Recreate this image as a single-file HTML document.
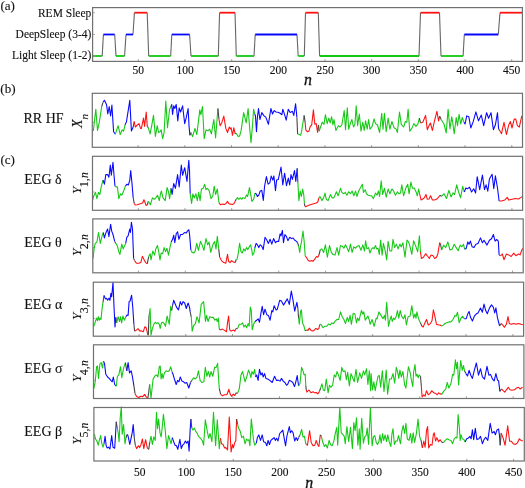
<!DOCTYPE html>
<html><head><meta charset="utf-8"><style>
html,body{margin:0;padding:0;background:#fff;}
body{width:525px;height:488px;overflow:hidden;position:relative;font-family:"Liberation Serif",serif;color:#1a1a1a;}
svg{position:absolute;left:0;top:0;filter:blur(0.35px);}
.t{position:absolute;white-space:nowrap;line-height:1;}
</style></head><body>
<svg width="525" height="488" viewBox="0 0 525 488">
<line x1="138.3" y1="61.4" x2="138.3" y2="59.2" stroke="#888" stroke-width="0.8"/>
<line x1="185.0" y1="61.4" x2="185.0" y2="59.2" stroke="#888" stroke-width="0.8"/>
<line x1="231.7" y1="61.4" x2="231.7" y2="59.2" stroke="#888" stroke-width="0.8"/>
<line x1="278.3" y1="61.4" x2="278.3" y2="59.2" stroke="#888" stroke-width="0.8"/>
<line x1="325.0" y1="61.4" x2="325.0" y2="59.2" stroke="#888" stroke-width="0.8"/>
<line x1="371.7" y1="61.4" x2="371.7" y2="59.2" stroke="#888" stroke-width="0.8"/>
<line x1="418.3" y1="61.4" x2="418.3" y2="59.2" stroke="#888" stroke-width="0.8"/>
<line x1="465.0" y1="61.4" x2="465.0" y2="59.2" stroke="#888" stroke-width="0.8"/>
<line x1="511.7" y1="61.4" x2="511.7" y2="59.2" stroke="#888" stroke-width="0.8"/>
<line x1="138.1" y1="147.3" x2="138.1" y2="145.1" stroke="#888" stroke-width="0.8"/>
<line x1="184.8" y1="147.3" x2="184.8" y2="145.1" stroke="#888" stroke-width="0.8"/>
<line x1="231.5" y1="147.3" x2="231.5" y2="145.1" stroke="#888" stroke-width="0.8"/>
<line x1="278.2" y1="147.3" x2="278.2" y2="145.1" stroke="#888" stroke-width="0.8"/>
<line x1="324.9" y1="147.3" x2="324.9" y2="145.1" stroke="#888" stroke-width="0.8"/>
<line x1="371.6" y1="147.3" x2="371.6" y2="145.1" stroke="#888" stroke-width="0.8"/>
<line x1="418.3" y1="147.3" x2="418.3" y2="145.1" stroke="#888" stroke-width="0.8"/>
<line x1="465.0" y1="147.3" x2="465.0" y2="145.1" stroke="#888" stroke-width="0.8"/>
<line x1="511.8" y1="147.3" x2="511.8" y2="145.1" stroke="#888" stroke-width="0.8"/>
<line x1="138.3" y1="210.3" x2="138.3" y2="208.1" stroke="#888" stroke-width="0.8"/>
<line x1="185.0" y1="210.3" x2="185.0" y2="208.1" stroke="#888" stroke-width="0.8"/>
<line x1="231.7" y1="210.3" x2="231.7" y2="208.1" stroke="#888" stroke-width="0.8"/>
<line x1="278.4" y1="210.3" x2="278.4" y2="208.1" stroke="#888" stroke-width="0.8"/>
<line x1="325.1" y1="210.3" x2="325.1" y2="208.1" stroke="#888" stroke-width="0.8"/>
<line x1="371.8" y1="210.3" x2="371.8" y2="208.1" stroke="#888" stroke-width="0.8"/>
<line x1="418.5" y1="210.3" x2="418.5" y2="208.1" stroke="#888" stroke-width="0.8"/>
<line x1="465.2" y1="210.3" x2="465.2" y2="208.1" stroke="#888" stroke-width="0.8"/>
<line x1="511.9" y1="210.3" x2="511.9" y2="208.1" stroke="#888" stroke-width="0.8"/>
<line x1="138.6" y1="272.8" x2="138.6" y2="270.6" stroke="#888" stroke-width="0.8"/>
<line x1="185.3" y1="272.8" x2="185.3" y2="270.6" stroke="#888" stroke-width="0.8"/>
<line x1="232.1" y1="272.8" x2="232.1" y2="270.6" stroke="#888" stroke-width="0.8"/>
<line x1="278.8" y1="272.8" x2="278.8" y2="270.6" stroke="#888" stroke-width="0.8"/>
<line x1="325.5" y1="272.8" x2="325.5" y2="270.6" stroke="#888" stroke-width="0.8"/>
<line x1="372.3" y1="272.8" x2="372.3" y2="270.6" stroke="#888" stroke-width="0.8"/>
<line x1="419.0" y1="272.8" x2="419.0" y2="270.6" stroke="#888" stroke-width="0.8"/>
<line x1="465.7" y1="272.8" x2="465.7" y2="270.6" stroke="#888" stroke-width="0.8"/>
<line x1="512.5" y1="272.8" x2="512.5" y2="270.6" stroke="#888" stroke-width="0.8"/>
<line x1="139.1" y1="336.2" x2="139.1" y2="334.0" stroke="#888" stroke-width="0.8"/>
<line x1="185.8" y1="336.2" x2="185.8" y2="334.0" stroke="#888" stroke-width="0.8"/>
<line x1="232.5" y1="336.2" x2="232.5" y2="334.0" stroke="#888" stroke-width="0.8"/>
<line x1="279.2" y1="336.2" x2="279.2" y2="334.0" stroke="#888" stroke-width="0.8"/>
<line x1="326.0" y1="336.2" x2="326.0" y2="334.0" stroke="#888" stroke-width="0.8"/>
<line x1="372.7" y1="336.2" x2="372.7" y2="334.0" stroke="#888" stroke-width="0.8"/>
<line x1="419.4" y1="336.2" x2="419.4" y2="334.0" stroke="#888" stroke-width="0.8"/>
<line x1="466.1" y1="336.2" x2="466.1" y2="334.0" stroke="#888" stroke-width="0.8"/>
<line x1="512.9" y1="336.2" x2="512.9" y2="334.0" stroke="#888" stroke-width="0.8"/>
<line x1="139.3" y1="398.5" x2="139.3" y2="396.3" stroke="#888" stroke-width="0.8"/>
<line x1="186.0" y1="398.5" x2="186.0" y2="396.3" stroke="#888" stroke-width="0.8"/>
<line x1="232.8" y1="398.5" x2="232.8" y2="396.3" stroke="#888" stroke-width="0.8"/>
<line x1="279.5" y1="398.5" x2="279.5" y2="396.3" stroke="#888" stroke-width="0.8"/>
<line x1="326.2" y1="398.5" x2="326.2" y2="396.3" stroke="#888" stroke-width="0.8"/>
<line x1="373.0" y1="398.5" x2="373.0" y2="396.3" stroke="#888" stroke-width="0.8"/>
<line x1="419.7" y1="398.5" x2="419.7" y2="396.3" stroke="#888" stroke-width="0.8"/>
<line x1="466.4" y1="398.5" x2="466.4" y2="396.3" stroke="#888" stroke-width="0.8"/>
<line x1="513.2" y1="398.5" x2="513.2" y2="396.3" stroke="#888" stroke-width="0.8"/>
<line x1="139.7" y1="461.0" x2="139.7" y2="458.8" stroke="#888" stroke-width="0.8"/>
<line x1="186.4" y1="461.0" x2="186.4" y2="458.8" stroke="#888" stroke-width="0.8"/>
<line x1="233.2" y1="461.0" x2="233.2" y2="458.8" stroke="#888" stroke-width="0.8"/>
<line x1="279.9" y1="461.0" x2="279.9" y2="458.8" stroke="#888" stroke-width="0.8"/>
<line x1="326.6" y1="461.0" x2="326.6" y2="458.8" stroke="#888" stroke-width="0.8"/>
<line x1="373.4" y1="461.0" x2="373.4" y2="458.8" stroke="#888" stroke-width="0.8"/>
<line x1="420.1" y1="461.0" x2="420.1" y2="458.8" stroke="#888" stroke-width="0.8"/>
<line x1="466.8" y1="461.0" x2="466.8" y2="458.8" stroke="#888" stroke-width="0.8"/>
<line x1="513.6" y1="461.0" x2="513.6" y2="458.8" stroke="#888" stroke-width="0.8"/>
<line x1="102.2" y1="56.0" x2="103.4" y2="34.5" stroke="#666" stroke-width="1.1"/>
<line x1="114.7" y1="34.5" x2="116.0" y2="56.0" stroke="#666" stroke-width="1.1"/>
<line x1="124.6" y1="56.0" x2="126.0" y2="34.5" stroke="#666" stroke-width="1.1"/>
<line x1="133.0" y1="34.5" x2="134.4" y2="12.7" stroke="#666" stroke-width="1.1"/>
<line x1="147.2" y1="12.7" x2="148.7" y2="56.0" stroke="#666" stroke-width="1.1"/>
<line x1="170.7" y1="56.0" x2="171.8" y2="34.5" stroke="#666" stroke-width="1.1"/>
<line x1="189.6" y1="34.5" x2="191.0" y2="56.0" stroke="#666" stroke-width="1.1"/>
<line x1="218.3" y1="56.0" x2="219.6" y2="12.7" stroke="#666" stroke-width="1.1"/>
<line x1="235.0" y1="12.7" x2="236.3" y2="56.0" stroke="#666" stroke-width="1.1"/>
<line x1="254.0" y1="56.0" x2="255.2" y2="34.5" stroke="#666" stroke-width="1.1"/>
<line x1="297.0" y1="34.5" x2="298.2" y2="56.0" stroke="#666" stroke-width="1.1"/>
<line x1="304.3" y1="56.0" x2="305.5" y2="12.7" stroke="#666" stroke-width="1.1"/>
<line x1="318.3" y1="12.7" x2="319.6" y2="56.0" stroke="#666" stroke-width="1.1"/>
<line x1="419.0" y1="56.0" x2="420.5" y2="12.7" stroke="#666" stroke-width="1.1"/>
<line x1="439.5" y1="12.7" x2="441.0" y2="56.0" stroke="#666" stroke-width="1.1"/>
<line x1="463.1" y1="56.0" x2="464.3" y2="34.5" stroke="#666" stroke-width="1.1"/>
<line x1="498.3" y1="34.5" x2="500.0" y2="12.7" stroke="#666" stroke-width="1.1"/>
<line x1="92.6" y1="56.0" x2="102.2" y2="56.0" stroke="#14c814" stroke-width="1.8"/>
<line x1="103.4" y1="34.5" x2="114.7" y2="34.5" stroke="#0808ff" stroke-width="1.8"/>
<line x1="116.0" y1="56.0" x2="124.6" y2="56.0" stroke="#14c814" stroke-width="1.8"/>
<line x1="126.0" y1="34.5" x2="133.0" y2="34.5" stroke="#0808ff" stroke-width="1.8"/>
<line x1="134.4" y1="12.7" x2="147.2" y2="12.7" stroke="#ff1212" stroke-width="1.8"/>
<line x1="148.7" y1="56.0" x2="170.7" y2="56.0" stroke="#14c814" stroke-width="1.8"/>
<line x1="171.8" y1="34.5" x2="189.6" y2="34.5" stroke="#0808ff" stroke-width="1.8"/>
<line x1="191.0" y1="56.0" x2="218.3" y2="56.0" stroke="#14c814" stroke-width="1.8"/>
<line x1="219.6" y1="12.7" x2="235.0" y2="12.7" stroke="#ff1212" stroke-width="1.8"/>
<line x1="236.3" y1="56.0" x2="254.0" y2="56.0" stroke="#14c814" stroke-width="1.8"/>
<line x1="255.2" y1="34.5" x2="297.0" y2="34.5" stroke="#0808ff" stroke-width="1.8"/>
<line x1="298.2" y1="56.0" x2="304.3" y2="56.0" stroke="#14c814" stroke-width="1.8"/>
<line x1="305.5" y1="12.7" x2="318.3" y2="12.7" stroke="#ff1212" stroke-width="1.8"/>
<line x1="319.6" y1="56.0" x2="419.0" y2="56.0" stroke="#14c814" stroke-width="1.8"/>
<line x1="420.5" y1="12.7" x2="439.5" y2="12.7" stroke="#ff1212" stroke-width="1.8"/>
<line x1="441.0" y1="56.0" x2="463.1" y2="56.0" stroke="#14c814" stroke-width="1.8"/>
<line x1="464.3" y1="34.5" x2="498.3" y2="34.5" stroke="#0808ff" stroke-width="1.8"/>
<line x1="500.0" y1="12.7" x2="522.4" y2="12.7" stroke="#ff1212" stroke-width="1.8"/>
<line x1="92.3" y1="122.4" x2="94.3" y2="122.4" stroke="#888" stroke-width="0.8"/>
<line x1="92.5" y1="192.0" x2="94.5" y2="192.0" stroke="#888" stroke-width="0.8"/>
<line x1="92.8" y1="247.6" x2="94.8" y2="247.6" stroke="#888" stroke-width="0.8"/>
<line x1="93.3" y1="318.4" x2="95.3" y2="318.4" stroke="#888" stroke-width="0.8"/>
<line x1="93.5" y1="380.3" x2="95.5" y2="380.3" stroke="#888" stroke-width="0.8"/>
<line x1="93.9" y1="438.3" x2="95.9" y2="438.3" stroke="#888" stroke-width="0.8"/>
<line x1="92.6" y1="12.7" x2="95.0" y2="12.7" stroke="#999" stroke-width="0.8"/>
<line x1="92.6" y1="34.5" x2="95.0" y2="34.5" stroke="#999" stroke-width="0.8"/>
<line x1="92.6" y1="56.0" x2="95.0" y2="56.0" stroke="#999" stroke-width="0.8"/>
<polyline points="92.5,129.8 93.4,130.5 95.8,109.2 97.5,130.5 99.3,122.2 101.7,106.5" fill="none" stroke="#14c814" stroke-width="1.08" stroke-linejoin="round"/>
<polyline points="101.7,106.5 103.0,102.3" fill="none" stroke="#444" stroke-width="1.08" stroke-linejoin="round"/>
<polyline points="103.0,102.3 104.4,100.3 106.5,104.4 107.8,114.0 109.2,106.5 110.6,116.0 111.9,105.1 113.6,131.8 115.4,134.2" fill="none" stroke="#0808ff" stroke-width="1.08" stroke-linejoin="round"/>
<polyline points="115.4,134.2 118.1,125.7 120.2,134.6 122.2,129.8 123.6,131.2 125.0,125.0" fill="none" stroke="#14c814" stroke-width="1.08" stroke-linejoin="round"/>
<polyline points="125.0,125.0 125.9,122.9 126.4,122.2 129.8,100.3 131.4,130.9 133.2,127.0" fill="none" stroke="#0808ff" stroke-width="1.08" stroke-linejoin="round"/>
<polyline points="133.2,127.0 134.2,121.5" fill="none" stroke="#444" stroke-width="1.08" stroke-linejoin="round"/>
<polyline points="134.2,121.5 135.3,127.0 137.3,125.0 139.0,123.6 140.5,128.4 141.4,128.4 143.5,118.1 144.6,126.4 146.2,112.0 147.3,126.4" fill="none" stroke="#ff1212" stroke-width="1.08" stroke-linejoin="round"/>
<polyline points="147.3,126.4 148.3,127.7" fill="none" stroke="#444" stroke-width="1.08" stroke-linejoin="round"/>
<polyline points="148.3,127.7 150.1,133.9 151.7,125.7 153.5,115.4 155.4,136.4 157.2,125.7 158.6,132.5 160.0,131.8 161.1,129.8 162.7,138.7 164.1,132.5 165.8,101.0 167.5,127.7 169.6,109.2 170.7,107.1" fill="none" stroke="#14c814" stroke-width="1.08" stroke-linejoin="round"/>
<polyline points="170.7,107.1 171.7,104.4" fill="none" stroke="#444" stroke-width="1.08" stroke-linejoin="round"/>
<polyline points="171.7,104.4 172.6,114.4 173.7,105.8 174.8,108.5 176.2,104.4 177.8,120.9 179.2,107.8 180.6,112.0 182.6,105.8 184.7,123.6 186.3,117.4 188.1,108.5 189.1,127.0 189.9,135.3" fill="none" stroke="#0808ff" stroke-width="1.08" stroke-linejoin="round"/>
<polyline points="189.9,135.3 190.9,132.5" fill="none" stroke="#444" stroke-width="1.08" stroke-linejoin="round"/>
<polyline points="190.9,132.5 192.6,136.6 195.0,128.4 196.8,134.6 199.8,109.9 200.9,114.7 202.5,106.5 204.2,138.7 206.0,129.8 208.0,130.9 209.7,129.1 211.4,133.9 213.8,119.5 215.6,138.0 217.9,108.5" fill="none" stroke="#14c814" stroke-width="1.08" stroke-linejoin="round"/>
<polyline points="217.9,108.5 219.0,119.5" fill="none" stroke="#444" stroke-width="1.08" stroke-linejoin="round"/>
<polyline points="219.0,119.5 220.1,125.7 221.7,122.9 223.8,116.1 225.8,128.4 227.5,132.5 229.3,127.0 230.5,129.0 231.1,127.7 232.5,135.3 233.8,127.7 235.2,133.9" fill="none" stroke="#ff1212" stroke-width="1.08" stroke-linejoin="round"/>
<polyline points="235.2,133.9 236.2,133.2" fill="none" stroke="#444" stroke-width="1.08" stroke-linejoin="round"/>
<polyline points="236.2,133.2 238.2,136.6 239.6,136.0 241.0,131.2 243.7,112.6 246.2,122.9 248.1,108.5 249.5,125.7 251.0,142.8 252.6,124.3 253.6,109.2 254.7,114.0" fill="none" stroke="#14c814" stroke-width="1.08" stroke-linejoin="round"/>
<polyline points="254.7,114.0 255.4,115.4 256.5,131.8 257.4,117.4 258.5,108.5 259.9,119.5 261.8,112.6 263.6,115.4 265.9,117.4 268.4,124.3 270.9,108.5 272.5,114.0 274.2,110.6 276.0,112.0 278.0,112.2 280.1,113.3 281.9,114.7 282.8,109.2 284.6,114.7 286.2,120.2 288.3,109.2 290.1,112.6 292.4,111.3 293.8,115.4 295.6,103.7 296.9,117.4" fill="none" stroke="#0808ff" stroke-width="1.08" stroke-linejoin="round"/>
<polyline points="296.9,117.4 297.6,133.9" fill="none" stroke="#444" stroke-width="1.08" stroke-linejoin="round"/>
<polyline points="297.6,133.9 299.3,134.6 300.6,135.3 301.6,131.2 304.1,115.4" fill="none" stroke="#14c814" stroke-width="1.08" stroke-linejoin="round"/>
<polyline points="304.1,115.4 305.2,122.9" fill="none" stroke="#444" stroke-width="1.08" stroke-linejoin="round"/>
<polyline points="305.2,122.9 305.8,129.8 307.5,131.8 308.9,131.2 310.3,126.4 311.7,125.0 313.4,109.9 314.8,124.3 316.2,123.6 317.6,132.5 318.5,125.0" fill="none" stroke="#ff1212" stroke-width="1.08" stroke-linejoin="round"/>
<polyline points="318.5,125.0 319.2,131.2" fill="none" stroke="#444" stroke-width="1.08" stroke-linejoin="round"/>
<polyline points="319.2,131.2 320.6,127.0 322.2,122.2 324.0,124.3 325.4,114.7 327.2,123.6 328.8,118.1 330.2,122.9 331.6,116.7 332.9,125.0 334.0,119.5 335.9,130.5 338.4,125.7 340.1,127.0 341.8,125.0 344.2,110.6 345.5,129.8 347.3,107.8 348.7,129.1 350.1,124.3 351.9,119.5 353.5,127.0 354.9,124.3 356.2,105.8 357.6,125.7 359.3,114.0 361.0,131.2 362.8,122.2 364.2,130.5 365.6,120.9 367.2,129.1 368.6,119.5 370.0,129.1 372.1,126.4 374.1,118.8 375.5,123.6 377.5,125.0 379.6,132.5 381.7,113.3 383.0,129.1 384.4,113.3 386.2,131.8 388.1,118.1 389.9,129.1 391.9,121.5 394.0,127.7 396.1,129.1 397.4,132.5 399.5,112.0 401.3,124.3 403.6,127.0 405.4,121.5 406.8,122.2 408.1,109.2 409.8,131.2 411.8,128.4 413.9,123.6 416.0,126.4 418.0,123.6 419.4,118.1" fill="none" stroke="#14c814" stroke-width="1.08" stroke-linejoin="round"/>
<polyline points="419.4,118.1 420.5,122.9" fill="none" stroke="#444" stroke-width="1.08" stroke-linejoin="round"/>
<polyline points="420.5,122.9 422.8,122.2 425.6,115.4 427.3,129.8 429.0,125.7 430.4,122.9 432.4,130.5 434.5,120.9 436.9,111.3 438.6,120.9 439.7,116.1" fill="none" stroke="#ff1212" stroke-width="1.08" stroke-linejoin="round"/>
<polyline points="439.7,116.1 441.1,119.5" fill="none" stroke="#444" stroke-width="1.08" stroke-linejoin="round"/>
<polyline points="441.1,119.5 444.0,124.0 446.2,132.9 448.1,109.4 450.0,128.9 451.7,116.7 452.6,121.6 454.2,133.7 456.2,117.5 457.5,125.6 459.1,114.3 460.7,124.0 462.3,117.5 464.0,122.4" fill="none" stroke="#14c814" stroke-width="1.08" stroke-linejoin="round"/>
<polyline points="464.0,122.4 465.1,124.0 466.7,115.9 468.8,116.7 470.8,128.0 473.2,121.6 475.9,111.9 478.5,120.8 481.3,115.1 483.7,125.6 486.6,112.7 488.6,118.3 491.0,112.7 493.4,129.7 495.4,124.8 497.5,112.7 498.6,128.9" fill="none" stroke="#0808ff" stroke-width="1.08" stroke-linejoin="round"/>
<polyline points="498.6,128.9 500.2,131.3" fill="none" stroke="#444" stroke-width="1.08" stroke-linejoin="round"/>
<polyline points="500.2,131.3 501.5,133.7 504.0,122.4 506.4,134.5 508.8,124.8 510.4,121.6 512.0,128.0 514.2,119.1 515.8,119.1 517.4,125.6 519.3,127.2 521.8,115.9" fill="none" stroke="#ff1212" stroke-width="1.08" stroke-linejoin="round"/>
<polyline points="92.5,200.6 93.8,195.8 95.5,192.4 96.9,198.6 98.5,192.4 99.9,194.5 101.2,186.9 103.0,180.1" fill="none" stroke="#14c814" stroke-width="1.08" stroke-linejoin="round"/>
<polyline points="103.0,180.1 104.4,184.2 105.8,174.6 107.6,174.6 108.9,177.3 110.3,165.0 111.3,175.3 113.0,162.2 114.0,175.3 115.0,186.2" fill="none" stroke="#0808ff" stroke-width="1.08" stroke-linejoin="round"/>
<polyline points="115.0,186.2 116.3,186.9 117.4,186.9 118.8,198.6 120.5,193.8 121.8,195.2 123.6,191.0 125.4,186.2" fill="none" stroke="#14c814" stroke-width="1.08" stroke-linejoin="round"/>
<polyline points="125.4,186.2 127.0,184.2 128.4,184.9 129.8,180.1 130.7,170.5 131.8,181.4 133.2,197.9" fill="none" stroke="#0808ff" stroke-width="1.08" stroke-linejoin="round"/>
<polyline points="133.2,197.9 134.2,203.4" fill="none" stroke="#444" stroke-width="1.08" stroke-linejoin="round"/>
<polyline points="134.2,203.4 135.3,205.0 137.3,204.8 139.4,204.1 141.4,203.4 142.8,202.7 143.9,199.7 144.9,202.0 146.0,205.4 147.3,204.8" fill="none" stroke="#ff1212" stroke-width="1.08" stroke-linejoin="round"/>
<polyline points="147.3,204.8 148.3,201.3" fill="none" stroke="#444" stroke-width="1.08" stroke-linejoin="round"/>
<polyline points="148.3,201.3 149.3,202.7 150.4,204.8 152.4,197.9 154.2,199.3 155.8,197.9 157.5,195.2 159.3,200.6 160.5,194.0 161.4,191.0 163.0,197.9 165.2,200.6 167.1,187.6 168.5,191.7 169.6,198.6 171.0,188.3" fill="none" stroke="#14c814" stroke-width="1.08" stroke-linejoin="round"/>
<polyline points="171.0,188.3 172.1,194.5 173.7,183.5 175.4,188.3 177.6,174.6 179.2,186.9 181.3,165.0 182.6,175.3 184.7,167.7 187.0,181.4 188.8,160.2 189.5,170.5 190.2,193.8" fill="none" stroke="#0808ff" stroke-width="1.08" stroke-linejoin="round"/>
<polyline points="190.2,193.8 191.6,203.4 192.9,193.8 194.3,197.9 195.9,193.8 197.3,200.6 198.7,192.4 200.1,200.6 201.4,189.0 203.2,188.3 204.6,184.2 206.0,189.7 207.3,188.3 209.1,190.4 211.0,198.6 212.8,195.8 214.2,186.2 215.6,194.5 217.3,189.0 219.0,202.7" fill="none" stroke="#14c814" stroke-width="1.08" stroke-linejoin="round"/>
<polyline points="219.0,202.7 220.4,204.8 222.4,204.1 224.5,204.5 226.1,203.4 227.5,201.3 228.9,203.7 230.6,204.1 232.1,204.5 233.8,203.7 235.2,201.3" fill="none" stroke="#ff1212" stroke-width="1.08" stroke-linejoin="round"/>
<polyline points="235.2,201.3 236.2,199.3" fill="none" stroke="#444" stroke-width="1.08" stroke-linejoin="round"/>
<polyline points="236.2,199.3 237.5,197.6 238.9,199.3 240.3,197.9 241.7,199.3 243.0,197.6 244.8,198.6 246.5,194.9 247.6,196.5 249.5,187.6 250.6,193.8 251.9,201.3 253.6,199.3 255.0,193.1" fill="none" stroke="#14c814" stroke-width="1.08" stroke-linejoin="round"/>
<polyline points="255.0,193.1 256.1,193.8 257.4,196.5 258.8,195.2 260.2,191.0 261.8,190.4 263.3,200.4 264.6,186.2 266.4,176.6 268.1,184.2 269.8,182.8 271.2,176.0 272.8,180.1 273.9,176.0 275.5,190.8 276.6,180.1 278.3,179.4 279.7,173.2 281.0,167.0 282.8,184.9 284.6,173.2 286.5,185.6 288.3,178.0 289.7,184.9 291.0,174.6 292.4,179.4 294.5,170.5 295.8,181.4 297.2,168.4" fill="none" stroke="#0808ff" stroke-width="1.08" stroke-linejoin="round"/>
<polyline points="297.2,168.4 297.9,182.8" fill="none" stroke="#444" stroke-width="1.08" stroke-linejoin="round"/>
<polyline points="297.9,182.8 298.9,200.6 300.2,191.0 301.4,196.5 302.7,189.0 303.8,195.2 304.4,203.4" fill="none" stroke="#14c814" stroke-width="1.08" stroke-linejoin="round"/>
<polyline points="304.4,203.4 304.9,206.1" fill="none" stroke="#444" stroke-width="1.08" stroke-linejoin="round"/>
<polyline points="304.9,206.1 305.8,206.8 308.2,205.4 311.0,204.5 313.7,203.7 316.2,203.0 317.8,202.0 318.9,197.9" fill="none" stroke="#ff1212" stroke-width="1.08" stroke-linejoin="round"/>
<polyline points="318.9,197.9 319.9,196.5 321.9,200.6 323.6,197.9 325.0,193.1 326.3,199.3 328.1,200.6 330.5,194.5 332.2,197.9 334.0,197.6 336.4,191.7 338.1,195.8 340.5,188.3 341.8,192.4 343.6,193.8 345.3,192.4 346.9,195.2 348.7,191.7 350.5,193.8 352.1,191.0 353.8,195.8 355.6,191.0 356.9,196.5 358.7,191.0 360.6,187.6 362.4,184.2 363.4,192.4 365.2,189.7 366.5,193.8 368.3,195.2 370.2,195.8 371.6,195.8 373.4,198.6 375.5,193.1 377.1,195.2 378.5,191.0 379.6,196.5 381.2,180.7 382.6,194.5 384.4,188.3 386.2,197.2 388.1,189.0 389.9,193.8 391.9,189.0 393.3,190.4 395.4,195.2 397.4,191.7 398.8,193.8 400.5,193.1 401.8,184.9 403.6,195.8 405.7,188.3 407.7,184.2 409.1,193.8 410.9,182.1 412.5,188.3 414.2,188.0 416.0,191.7 417.3,195.8 418.7,189.0 419.7,194.0" fill="none" stroke="#14c814" stroke-width="1.08" stroke-linejoin="round"/>
<polyline points="419.7,194.0 421.0,200.0 422.4,199.3 424.2,197.9 426.0,194.5 427.3,199.3 429.0,199.0 430.6,195.8 432.4,200.0 434.5,200.0 436.5,199.3 438.6,197.2 440.0,195.2" fill="none" stroke="#ff1212" stroke-width="1.08" stroke-linejoin="round"/>
<polyline points="440.0,195.2 441.6,196.3" fill="none" stroke="#444" stroke-width="1.08" stroke-linejoin="round"/>
<polyline points="441.6,196.3 444.0,193.7 446.5,198.5 448.9,190.4 451.0,196.9 453.0,192.9 454.6,194.5 456.7,184.8 458.6,192.0 460.6,197.7 462.7,186.4 464.3,192.0" fill="none" stroke="#14c814" stroke-width="1.08" stroke-linejoin="round"/>
<polyline points="464.3,192.0 465.9,188.0 467.5,188.8 469.5,187.2 471.6,192.0 473.7,188.8 475.6,192.9 477.2,176.7 479.7,189.6 482.4,175.0 484.5,189.6 486.1,184.8 487.8,191.2 489.4,179.1 492.1,174.2 493.8,188.8 495.4,175.9 497.5,188.0 499.1,201.0" fill="none" stroke="#0808ff" stroke-width="1.08" stroke-linejoin="round"/>
<polyline points="499.1,201.0 501.5,201.0 504.8,200.1 507.2,197.4 508.8,200.1 512.1,199.3 515.3,198.5 518.5,199.0 521.0,197.4 522.6,196.4" fill="none" stroke="#ff1212" stroke-width="1.08" stroke-linejoin="round"/>
<polyline points="93.0,258.5 94.1,248.9 95.2,243.4 96.9,242.1 98.5,232.5 100.3,243.4 102.1,235.9 103.3,232.5" fill="none" stroke="#14c814" stroke-width="1.08" stroke-linejoin="round"/>
<polyline points="103.3,232.5 104.4,237.9 105.8,233.1 107.6,229.0 108.9,236.6 110.6,224.2 111.7,231.1 113.0,234.5 114.7,241.4" fill="none" stroke="#0808ff" stroke-width="1.08" stroke-linejoin="round"/>
<polyline points="114.7,241.4 115.8,243.4" fill="none" stroke="#444" stroke-width="1.08" stroke-linejoin="round"/>
<polyline points="115.8,243.4 117.2,245.5 118.8,251.7 119.9,254.4 121.8,244.1 123.2,248.9 124.3,246.2 125.7,243.4" fill="none" stroke="#14c814" stroke-width="1.08" stroke-linejoin="round"/>
<polyline points="125.7,243.4 126.8,237.3 128.1,235.9 129.8,229.0 130.5,232.5 131.4,222.2 132.5,229.0 133.6,258.5" fill="none" stroke="#0808ff" stroke-width="1.08" stroke-linejoin="round"/>
<polyline points="133.6,258.5 134.6,260.6" fill="none" stroke="#444" stroke-width="1.08" stroke-linejoin="round"/>
<polyline points="134.6,260.6 136.4,263.3 138.7,263.3 140.8,262.6 142.4,256.2 144.2,259.9 145.6,262.6 147.3,263.7" fill="none" stroke="#ff1212" stroke-width="1.08" stroke-linejoin="round"/>
<polyline points="147.3,263.7 148.7,256.5" fill="none" stroke="#444" stroke-width="1.08" stroke-linejoin="round"/>
<polyline points="148.7,256.5 150.1,253.7 151.0,259.9 152.8,251.0 154.5,255.1 155.8,248.9 157.5,245.5 158.6,251.0 160.0,259.9 161.1,253.0 162.7,253.7 164.1,247.6 165.5,251.7 166.9,248.2 168.5,255.1 169.9,247.6 171.2,242.1" fill="none" stroke="#14c814" stroke-width="1.08" stroke-linejoin="round"/>
<polyline points="171.2,242.1 172.6,239.3 173.7,235.2 174.8,242.7 176.2,233.8 177.6,231.8 178.9,239.3 180.6,234.5 182.6,234.5 184.4,232.5 186.1,233.1 187.4,231.1 188.8,229.7 189.5,233.8 190.9,250.3" fill="none" stroke="#0808ff" stroke-width="1.08" stroke-linejoin="round"/>
<polyline points="190.9,250.3 192.2,252.4 193.6,253.0 195.0,251.7 196.8,243.4 198.4,250.3 200.5,241.4 201.8,244.1 203.9,250.3 206.0,238.6 207.7,244.8 209.1,242.1 210.8,252.4 212.8,244.8 214.6,241.4 216.0,248.9 217.3,236.3 218.7,248.9" fill="none" stroke="#14c814" stroke-width="1.08" stroke-linejoin="round"/>
<polyline points="218.7,248.9 219.7,257.2" fill="none" stroke="#444" stroke-width="1.08" stroke-linejoin="round"/>
<polyline points="219.7,257.2 221.5,260.6 223.8,262.6 225.8,263.3 227.5,254.4 228.6,261.3 230.0,262.6 231.6,260.6 233.4,262.0 235.2,262.6" fill="none" stroke="#ff1212" stroke-width="1.08" stroke-linejoin="round"/>
<polyline points="235.2,262.6 236.2,259.5" fill="none" stroke="#444" stroke-width="1.08" stroke-linejoin="round"/>
<polyline points="236.2,259.5 237.1,259.2 238.2,253.7 239.6,243.4 241.0,251.7 242.3,253.0 243.7,248.9 245.1,251.0 246.5,247.6 247.8,249.6 249.2,246.9 250.6,244.8 251.7,249.6 252.6,255.1 254.0,253.0 254.8,248.0" fill="none" stroke="#14c814" stroke-width="1.08" stroke-linejoin="round"/>
<polyline points="254.8,248.0 256.1,243.4 257.4,244.8 258.8,247.6 260.2,244.8 261.8,246.2 263.2,249.6 265.0,237.3 266.8,240.0 268.4,243.4 270.1,239.3 271.8,244.1 273.6,238.6 275.5,242.7 276.9,241.4 278.7,241.4 280.1,233.8 281.0,235.9 282.4,230.4 283.5,242.7 284.9,234.5 286.5,236.6 287.9,240.7 289.7,237.3 291.5,238.6 293.1,238.0 294.5,240.0 296.5,241.4 297.6,242.7" fill="none" stroke="#0808ff" stroke-width="1.08" stroke-linejoin="round"/>
<polyline points="297.6,242.7 298.6,246.0" fill="none" stroke="#444" stroke-width="1.08" stroke-linejoin="round"/>
<polyline points="298.6,246.0 299.7,252.4 300.6,245.5 301.4,242.7 303.0,231.1 304.1,240.7 305.2,255.8" fill="none" stroke="#14c814" stroke-width="1.08" stroke-linejoin="round"/>
<polyline points="305.2,255.8 306.6,257.8 308.2,260.6 309.9,261.3 311.7,260.6 313.0,261.3 314.8,259.2 316.5,256.5 317.8,257.2 319.0,255.0" fill="none" stroke="#ff1212" stroke-width="1.08" stroke-linejoin="round"/>
<polyline points="319.0,255.0 320.3,249.6" fill="none" stroke="#444" stroke-width="1.08" stroke-linejoin="round"/>
<polyline points="320.3,249.6 321.9,248.9 323.6,252.4 325.4,244.8 327.4,257.2 329.5,245.5 331.3,252.4 332.9,254.4 335.0,255.1 337.0,247.6 338.7,255.1 340.5,245.5 342.2,246.2 343.9,248.2 345.5,244.8 346.9,247.6 348.7,251.7 350.5,244.1 352.1,252.4 353.8,246.9 355.6,248.2 357.3,246.2 359.0,245.5 361.0,250.3 362.8,244.8 364.5,251.0 365.6,240.7 366.9,248.9 368.6,247.6 370.0,253.0 371.6,248.9 373.0,247.6 374.1,248.9 375.5,245.5 376.6,248.9 378.0,248.2 379.3,254.4 380.7,240.0 382.1,255.1 383.4,243.4 385.1,250.3 386.7,259.9 388.1,241.4 389.9,251.0 391.7,251.0 393.0,239.3 394.7,247.6 396.3,244.1 398.1,248.9 399.9,244.1 401.3,246.9 402.9,242.7 405.0,257.2 407.0,240.0 408.7,242.1 410.1,246.9 411.8,254.4 413.6,240.7 414.6,243.4 416.0,246.9 417.7,251.7 419.4,235.9 420.5,252.0" fill="none" stroke="#14c814" stroke-width="1.08" stroke-linejoin="round"/>
<polyline points="420.5,252.0 421.4,258.5 423.5,257.2 425.6,253.7 427.3,255.8 429.3,258.5 431.0,255.1 433.1,255.8 434.7,258.5 436.5,257.2 437.9,253.7 439.7,242.7 440.5,244.0" fill="none" stroke="#ff1212" stroke-width="1.08" stroke-linejoin="round"/>
<polyline points="440.5,244.0 441.6,250.0" fill="none" stroke="#444" stroke-width="1.08" stroke-linejoin="round"/>
<polyline points="441.6,250.0 443.6,245.1 445.7,247.6 447.8,241.9 450.0,250.0 452.1,249.2 454.2,244.3 456.2,247.6 458.1,250.8 460.2,245.1 461.9,246.8 463.5,244.3 464.6,249.2" fill="none" stroke="#14c814" stroke-width="1.08" stroke-linejoin="round"/>
<polyline points="464.6,249.2 466.2,248.4 467.8,241.9 469.1,244.3 470.4,241.1 472.1,246.8 474.0,247.6 475.9,244.3 478.0,243.5 480.5,237.9 482.4,242.7 484.0,240.3 487.0,245.1 489.4,240.3 491.5,238.7 493.4,234.6 495.1,241.1 496.7,239.5 498.3,241.1 499.1,254.9" fill="none" stroke="#0808ff" stroke-width="1.08" stroke-linejoin="round"/>
<polyline points="499.1,254.9 500.7,255.7" fill="none" stroke="#444" stroke-width="1.08" stroke-linejoin="round"/>
<polyline points="500.7,255.7 502.3,254.0 504.0,259.7 506.4,254.0 508.8,254.9 511.2,256.5 513.7,253.2 515.8,255.7 518.5,254.0 520.1,254.9 521.8,250.0 522.9,248.4" fill="none" stroke="#ff1212" stroke-width="1.08" stroke-linejoin="round"/>
<polyline points="93.4,327.0 94.8,323.6 95.8,320.2 96.9,318.1 97.5,320.8 98.5,316.7 99.3,320.2 100.3,318.1 101.0,319.5 102.1,308.5 103.0,302.3" fill="none" stroke="#14c814" stroke-width="1.08" stroke-linejoin="round"/>
<polyline points="103.0,302.3 104.0,295.5" fill="none" stroke="#444" stroke-width="1.08" stroke-linejoin="round"/>
<polyline points="104.0,295.5 105.4,298.9 106.5,298.2 107.6,300.3 108.9,298.2 109.9,300.3 110.9,293.4 111.7,296.8 113.0,282.4 114.0,306.4 115.0,327.0 115.8,317.4" fill="none" stroke="#0808ff" stroke-width="1.08" stroke-linejoin="round"/>
<polyline points="115.8,317.4 116.7,322.9" fill="none" stroke="#444" stroke-width="1.08" stroke-linejoin="round"/>
<polyline points="116.7,322.9 118.1,316.7 119.5,321.5 120.5,316.7 121.6,322.9 122.9,316.0 124.3,320.2 125.9,316.7" fill="none" stroke="#14c814" stroke-width="1.08" stroke-linejoin="round"/>
<polyline points="125.9,316.7 127.0,315.0 128.1,315.4 129.1,301.6 130.1,301.0 131.6,295.2 132.8,307.8 133.9,324.3" fill="none" stroke="#0808ff" stroke-width="1.08" stroke-linejoin="round"/>
<polyline points="133.9,324.3 134.6,331.1" fill="none" stroke="#444" stroke-width="1.08" stroke-linejoin="round"/>
<polyline points="134.6,331.1 136.0,330.4 138.0,328.7 139.7,330.9 141.4,330.9 143.2,331.8 144.9,326.7 146.2,327.7 147.6,333.9 148.3,335.2" fill="none" stroke="#ff1212" stroke-width="1.08" stroke-linejoin="round"/>
<polyline points="148.3,335.2 149.0,316.0" fill="none" stroke="#444" stroke-width="1.08" stroke-linejoin="round"/>
<polyline points="149.0,316.0 150.1,308.5 151.0,335.2 152.4,328.4 153.8,324.3 155.2,322.2 156.5,323.6 157.9,322.6 159.3,324.3 160.2,328.4 161.4,322.9 162.7,322.2 164.1,323.6 165.5,326.3 167.1,316.0 168.2,320.2 169.3,324.3 170.7,306.4 171.7,310.5" fill="none" stroke="#14c814" stroke-width="1.08" stroke-linejoin="round"/>
<polyline points="171.7,310.5 172.6,305.1" fill="none" stroke="#444" stroke-width="1.08" stroke-linejoin="round"/>
<polyline points="172.6,305.1 173.7,300.3 175.1,303.7 176.5,307.1 178.5,309.9 180.3,301.6 181.7,305.1 183.0,301.6 184.7,303.0 186.3,308.5 188.1,303.0 189.5,307.1 190.2,311.9" fill="none" stroke="#0808ff" stroke-width="1.08" stroke-linejoin="round"/>
<polyline points="190.2,311.9 191.3,317.4" fill="none" stroke="#444" stroke-width="1.08" stroke-linejoin="round"/>
<polyline points="191.3,317.4 192.2,331.1 193.6,325.6 195.4,323.6 197.0,316.7 199.1,322.9 201.2,304.4 203.6,301.6 205.5,321.5 206.6,315.4 208.0,321.5 209.7,316.7 211.4,317.4 213.2,317.4 214.9,320.2 216.2,318.8 217.3,321.5 218.3,318.1 219.3,329.1" fill="none" stroke="#14c814" stroke-width="1.08" stroke-linejoin="round"/>
<polyline points="219.3,329.1 220.6,330.0" fill="none" stroke="#444" stroke-width="1.08" stroke-linejoin="round"/>
<polyline points="220.6,330.0 222.4,329.1 224.5,330.4 226.5,331.8 227.5,322.9 228.6,316.0 229.7,329.8 231.1,331.1 232.5,330.5 233.4,330.0 234.8,331.1 236.2,328.4" fill="none" stroke="#ff1212" stroke-width="1.08" stroke-linejoin="round"/>
<polyline points="236.2,328.4 237.5,328.7" fill="none" stroke="#444" stroke-width="1.08" stroke-linejoin="round"/>
<polyline points="237.5,328.7 239.3,324.3 241.0,324.3 242.6,322.9 244.0,327.0 245.4,325.0 246.7,327.7 248.1,323.6 249.2,326.3 250.3,307.1 251.3,310.5 252.2,329.8 253.6,324.3 255.0,321.5" fill="none" stroke="#14c814" stroke-width="1.08" stroke-linejoin="round"/>
<polyline points="255.0,321.5 256.7,320.2 258.1,318.8 259.5,322.2 260.9,313.3 262.2,306.4 263.6,314.7 265.0,309.2 266.8,314.7 268.4,315.4 270.1,320.2 271.8,310.5 272.8,311.9 274.2,305.7 276.0,309.9 277.3,309.2 279.7,300.3 281.4,301.0 283.5,305.1 285.6,301.6 287.3,298.9 289.3,304.4 291.3,291.1 292.8,298.9 294.7,311.2 296.9,302.3 297.9,308.5" fill="none" stroke="#0808ff" stroke-width="1.08" stroke-linejoin="round"/>
<polyline points="297.9,308.5 298.6,318.0" fill="none" stroke="#444" stroke-width="1.08" stroke-linejoin="round"/>
<polyline points="298.6,318.0 299.3,324.3 300.6,311.2 301.4,309.9 302.5,322.9 303.8,325.6 305.2,330.9" fill="none" stroke="#14c814" stroke-width="1.08" stroke-linejoin="round"/>
<polyline points="305.2,330.9 306.6,329.8" fill="none" stroke="#444" stroke-width="1.08" stroke-linejoin="round"/>
<polyline points="306.6,329.8 308.0,330.4 309.3,328.1 311.0,330.4 313.0,331.1 314.4,330.0 315.8,328.4 317.6,329.5 318.9,328.4 319.6,325.0" fill="none" stroke="#ff1212" stroke-width="1.08" stroke-linejoin="round"/>
<polyline points="319.6,325.0 320.6,324.3" fill="none" stroke="#444" stroke-width="1.08" stroke-linejoin="round"/>
<polyline points="320.6,324.3 321.7,325.4 323.0,327.7 324.7,326.3 326.7,326.3 328.5,324.0 330.2,325.0 331.8,322.9 333.6,323.6 335.4,320.8 337.0,319.5 338.7,319.5 340.5,311.9 342.2,316.7 343.9,319.5 345.5,323.6 347.3,317.4 348.7,321.5 350.1,315.4 351.4,324.3 353.2,313.3 354.9,314.0 356.5,322.9 357.6,318.1 359.0,320.8 360.4,314.7 361.5,310.5 362.8,314.0 363.8,311.9 365.2,320.2 366.5,318.1 367.9,316.0 369.3,320.2 370.2,324.3 372.1,319.5 374.1,326.3 376.2,318.1 377.1,318.8 378.9,311.9 381.0,315.4 383.0,318.8 384.4,315.4 385.4,320.2 386.7,302.3 388.5,326.3 389.9,320.2 391.3,316.0 392.2,321.5 393.6,318.1 394.7,319.5 396.3,316.0 397.4,310.5 398.8,318.1 400.2,310.5 401.8,316.7 403.6,318.8 405.0,314.7 406.4,325.0 408.1,316.7 410.1,316.0 411.8,305.7 413.6,318.1 415.0,314.0 416.0,318.1 416.9,311.9 418.0,316.7 419.4,320.8 420.5,322.9" fill="none" stroke="#14c814" stroke-width="1.08" stroke-linejoin="round"/>
<polyline points="420.5,322.9 421.9,326.3" fill="none" stroke="#444" stroke-width="1.08" stroke-linejoin="round"/>
<polyline points="421.9,326.3 423.2,327.0 424.6,323.6 426.5,319.5 428.3,325.0 430.4,323.6 432.0,320.8 433.4,309.9 434.7,315.4 436.5,324.3 438.6,325.0 440.2,325.0 441.6,326.0" fill="none" stroke="#ff1212" stroke-width="1.08" stroke-linejoin="round"/>
<polyline points="441.6,326.0 443.2,325.1 444.9,323.5 446.8,322.7 448.9,321.9 451.0,321.9 453.0,319.5 454.9,315.4 456.2,316.2 457.5,312.2 459.1,322.7 460.7,318.7 462.7,316.2 464.3,318.7" fill="none" stroke="#14c814" stroke-width="1.08" stroke-linejoin="round"/>
<polyline points="464.3,318.7 466.2,318.7 467.8,313.8 469.1,311.4 470.4,317.0 472.4,321.1 474.3,316.2 476.4,313.8 478.0,313.0 480.5,308.1 482.4,312.2 484.0,304.1 485.7,310.6 487.3,313.8 489.4,308.1 491.5,304.9 493.4,307.3 494.7,313.0 495.9,307.8 497.5,317.9 499.6,326.0" fill="none" stroke="#0808ff" stroke-width="1.08" stroke-linejoin="round"/>
<polyline points="499.6,326.0 501.2,323.5" fill="none" stroke="#444" stroke-width="1.08" stroke-linejoin="round"/>
<polyline points="501.2,323.5 502.8,325.1 504.4,327.3 506.4,324.3 508.0,316.6 509.3,323.5 511.2,324.3 513.7,323.5 516.1,324.3 518.5,323.5 521.0,324.3 522.9,324.7" fill="none" stroke="#ff1212" stroke-width="1.08" stroke-linejoin="round"/>
<polyline points="93.8,388.6 95.2,381.8 96.6,366.7 97.5,366.0 98.5,378.4 99.9,364.0 101.2,362.6 102.6,368.1 103.4,361.2" fill="none" stroke="#14c814" stroke-width="1.08" stroke-linejoin="round"/>
<polyline points="103.4,361.2 104.4,362.6" fill="none" stroke="#444" stroke-width="1.08" stroke-linejoin="round"/>
<polyline points="104.4,362.6 105.8,374.2 107.6,377.0 109.2,378.4 110.9,380.4 112.2,381.8 113.3,377.0 114.7,384.5 116.3,386.2" fill="none" stroke="#0808ff" stroke-width="1.08" stroke-linejoin="round"/>
<polyline points="116.3,386.2 117.4,376.3 118.8,374.9 120.5,366.7 121.8,377.7 123.6,368.1 125.4,362.6" fill="none" stroke="#14c814" stroke-width="1.08" stroke-linejoin="round"/>
<polyline points="125.4,362.6 126.8,370.8" fill="none" stroke="#444" stroke-width="1.08" stroke-linejoin="round"/>
<polyline points="126.8,370.8 128.1,362.6 129.5,372.9 131.2,370.8 132.5,377.0 133.9,385.9" fill="none" stroke="#0808ff" stroke-width="1.08" stroke-linejoin="round"/>
<polyline points="133.9,385.9 135.0,393.4" fill="none" stroke="#444" stroke-width="1.08" stroke-linejoin="round"/>
<polyline points="135.0,393.4 136.6,396.6 138.7,397.6 140.8,396.2 142.8,396.6 144.6,394.4 146.2,396.9 147.9,398.2" fill="none" stroke="#ff1212" stroke-width="1.08" stroke-linejoin="round"/>
<polyline points="147.9,398.2 149.7,384.5" fill="none" stroke="#444" stroke-width="1.08" stroke-linejoin="round"/>
<polyline points="149.7,384.5 151.0,398.2 153.1,379.0 155.2,375.6 156.9,374.9 157.9,377.0 159.3,366.7 160.2,366.0 161.1,379.0 162.1,373.6 163.0,378.4 164.4,372.9 166.2,370.8 168.0,371.5 169.3,370.8 170.7,366.7 172.1,372.2" fill="none" stroke="#14c814" stroke-width="1.08" stroke-linejoin="round"/>
<polyline points="172.1,372.2 173.0,374.2 174.4,379.0 176.2,384.5 177.6,380.4 178.9,381.8 180.3,377.0 181.9,381.1 183.6,381.8 185.0,383.2 186.7,382.5 188.8,388.0 190.5,382.5" fill="none" stroke="#0808ff" stroke-width="1.08" stroke-linejoin="round"/>
<polyline points="190.5,382.5 191.8,380.4" fill="none" stroke="#444" stroke-width="1.08" stroke-linejoin="round"/>
<polyline points="191.8,380.4 193.6,377.7 195.4,379.0 197.0,377.0 198.4,370.8 200.1,380.4 201.8,382.5 203.9,381.8 205.3,367.4 206.9,376.3 208.3,371.5 209.7,377.0 211.0,371.5 212.8,376.3 214.6,367.4 216.2,367.4 217.6,363.3 219.3,388.6" fill="none" stroke="#14c814" stroke-width="1.08" stroke-linejoin="round"/>
<polyline points="219.3,388.6 220.6,394.1" fill="none" stroke="#444" stroke-width="1.08" stroke-linejoin="round"/>
<polyline points="220.6,394.1 222.4,395.8 224.5,394.8 226.9,394.8 228.9,389.3 230.2,394.1 231.6,396.2 233.4,394.1 234.8,395.5 236.2,392.8" fill="none" stroke="#ff1212" stroke-width="1.08" stroke-linejoin="round"/>
<polyline points="236.2,392.8 237.5,393.4" fill="none" stroke="#444" stroke-width="1.08" stroke-linejoin="round"/>
<polyline points="237.5,393.4 239.3,388.6 241.0,374.9 242.6,371.5 243.7,376.3 245.1,381.8 246.7,377.0 248.5,370.1 249.9,373.6 250.9,377.7 251.9,371.5 253.3,374.2 254.7,369.4 255.6,377.0" fill="none" stroke="#14c814" stroke-width="1.08" stroke-linejoin="round"/>
<polyline points="255.6,377.0 256.7,374.9 258.1,380.4 259.5,369.4 260.9,374.9 262.2,372.9 263.2,377.0 264.6,373.6 265.9,378.4 267.7,379.0 269.8,380.4 272.2,382.5 274.6,376.3 276.4,380.4 278.3,380.1 280.1,381.1 281.4,378.4 283.2,381.1 284.9,382.5 286.5,385.2 287.6,384.5 289.3,380.4 291.0,381.1 292.8,382.5 294.5,386.6 295.8,381.8 297.2,375.6 298.6,386.0" fill="none" stroke="#0808ff" stroke-width="1.08" stroke-linejoin="round"/>
<polyline points="298.6,386.0 300.0,383.2 301.6,367.4 303.0,370.8 304.1,374.9 305.2,374.2 305.8,385.9" fill="none" stroke="#14c814" stroke-width="1.08" stroke-linejoin="round"/>
<polyline points="305.8,385.9 306.3,390.0" fill="none" stroke="#444" stroke-width="1.08" stroke-linejoin="round"/>
<polyline points="306.3,390.0 306.9,392.1 308.9,390.0 311.0,392.8 313.0,391.7 314.4,392.8 316.2,392.5 317.8,393.9 319.5,391.4" fill="none" stroke="#ff1212" stroke-width="1.08" stroke-linejoin="round"/>
<polyline points="319.5,391.4 320.6,388.0" fill="none" stroke="#444" stroke-width="1.08" stroke-linejoin="round"/>
<polyline points="320.6,388.0 321.9,383.8 323.3,390.0 324.7,390.7 326.3,379.0 328.1,392.8 329.5,385.2 330.9,387.3 332.6,385.2 334.3,374.9 335.7,377.0 337.0,371.5 338.4,374.9 340.1,380.4 341.8,367.4 343.2,371.5 345.0,370.8 346.4,379.7 347.7,372.2 349.4,385.9 351.0,373.6 352.4,377.0 354.2,381.8 356.0,369.4 357.6,382.5 359.7,372.9 361.5,378.4 363.4,370.8 364.7,374.9 366.5,368.7 367.9,384.5 369.3,370.8 370.6,390.7 371.1,373.6 372.5,390.0 373.8,381.8 375.2,390.7 376.6,383.2 378.0,376.3 379.3,375.6 380.7,387.3 382.3,370.8 384.0,391.4 386.2,370.1 387.6,394.1 389.5,379.0 391.3,379.0 393.0,373.6 394.7,383.2 396.3,367.4 397.7,372.2 398.8,378.4 399.9,370.1 401.3,377.0 402.9,371.5 404.6,384.5 405.9,388.0 408.4,366.7 410.1,372.2 411.2,379.0 412.8,386.6 413.6,372.2 415.0,364.6 416.0,376.3 416.9,374.2 418.3,377.7 419.1,374.9 420.5,376.3" fill="none" stroke="#14c814" stroke-width="1.08" stroke-linejoin="round"/>
<polyline points="420.5,376.3 421.3,386.0" fill="none" stroke="#444" stroke-width="1.08" stroke-linejoin="round"/>
<polyline points="421.3,386.0 422.1,396.9 423.8,394.8 425.1,396.2 426.5,390.7 428.3,394.8 430.1,393.4 431.7,390.7 433.8,392.8 435.6,393.4 437.2,394.8 438.6,392.8 440.0,393.9 441.9,394.1" fill="none" stroke="#ff1212" stroke-width="1.08" stroke-linejoin="round"/>
<polyline points="441.9,394.1 443.6,391.4 445.7,389.0 447.3,382.5 448.9,388.1 451.0,383.3 452.6,374.4 453.8,375.2 455.4,359.8 456.5,368.7 457.5,362.2 458.6,384.9 460.7,360.6 462.3,370.3 463.5,365.5 464.6,371.1" fill="none" stroke="#14c814" stroke-width="1.08" stroke-linejoin="round"/>
<polyline points="464.6,371.1 465.9,373.6" fill="none" stroke="#444" stroke-width="1.08" stroke-linejoin="round"/>
<polyline points="465.9,373.6 467.5,376.0 469.1,370.3 470.8,375.2 472.4,378.4 474.3,370.3 476.4,363.0 478.5,375.2 480.5,368.7 482.4,376.8 484.5,379.2 487.0,366.3 488.9,375.2 490.5,374.4 492.6,379.2 494.2,380.9 495.9,373.6 497.5,380.0 498.6,380.9 499.9,391.4" fill="none" stroke="#0808ff" stroke-width="1.08" stroke-linejoin="round"/>
<polyline points="499.9,391.4 501.5,389.0" fill="none" stroke="#444" stroke-width="1.08" stroke-linejoin="round"/>
<polyline points="501.5,389.0 503.1,390.6 504.8,392.2 506.4,389.8 508.3,387.3 509.9,389.8 512.0,390.3 514.5,389.8 516.4,388.1 518.5,387.3 520.1,389.0 522.6,387.3" fill="none" stroke="#ff1212" stroke-width="1.08" stroke-linejoin="round"/>
<polyline points="94.4,434.2 95.5,439.0 96.9,441.0 98.2,445.2 99.3,440.4 100.7,435.6 101.7,443.1 103.0,447.2 104.0,443.8" fill="none" stroke="#14c814" stroke-width="1.08" stroke-linejoin="round"/>
<polyline points="104.0,443.8 105.1,436.2 106.2,445.8 107.1,447.9 108.5,447.2 109.9,449.0 111.7,435.6 113.0,447.2 114.7,448.2 116.3,421.8" fill="none" stroke="#0808ff" stroke-width="1.08" stroke-linejoin="round"/>
<polyline points="116.3,421.8 117.2,428.0" fill="none" stroke="#444" stroke-width="1.08" stroke-linejoin="round"/>
<polyline points="117.2,428.0 118.1,432.1 119.1,441.7 120.2,417.7 121.3,406.7 122.2,434.2 123.6,424.6 125.0,443.8 125.9,438.3" fill="none" stroke="#14c814" stroke-width="1.08" stroke-linejoin="round"/>
<polyline points="125.9,438.3 126.8,434.9" fill="none" stroke="#444" stroke-width="1.08" stroke-linejoin="round"/>
<polyline points="126.8,434.9 127.7,434.9 128.4,437.6 129.8,444.5 131.2,437.6 132.2,432.8 133.2,424.6 134.2,436.9" fill="none" stroke="#0808ff" stroke-width="1.08" stroke-linejoin="round"/>
<polyline points="134.2,436.9 135.3,445.2" fill="none" stroke="#444" stroke-width="1.08" stroke-linejoin="round"/>
<polyline points="135.3,445.2 136.6,448.6 138.3,445.8 139.7,447.6 141.0,444.5 142.4,439.0 143.8,448.6 145.6,439.7 147.3,447.9 148.7,449.3" fill="none" stroke="#ff1212" stroke-width="1.08" stroke-linejoin="round"/>
<polyline points="148.7,449.3 149.8,442.0" fill="none" stroke="#444" stroke-width="1.08" stroke-linejoin="round"/>
<polyline points="149.8,442.0 151.0,436.2 152.4,444.5 153.8,436.9 155.2,440.4 156.5,412.2 157.5,428.7 158.6,419.1 160.0,432.8 161.1,436.9 162.1,428.7 163.4,414.3 165.2,430.1 166.9,448.6 168.5,435.6 169.9,439.7 171.0,443.8 172.3,437.6" fill="none" stroke="#14c814" stroke-width="1.08" stroke-linejoin="round"/>
<polyline points="172.3,437.6 173.7,441.7 175.1,445.2 176.5,445.8 177.8,449.3 179.9,439.4 181.3,448.6 182.6,445.2 184.0,443.8 185.4,441.0 186.7,443.1 188.1,441.0 189.1,451.3 190.2,428.7 190.9,419.1" fill="none" stroke="#0808ff" stroke-width="1.08" stroke-linejoin="round"/>
<polyline points="190.9,419.1 191.8,428.0" fill="none" stroke="#444" stroke-width="1.08" stroke-linejoin="round"/>
<polyline points="191.8,428.0 192.9,430.1 194.3,428.0 195.7,431.4 197.0,432.8 198.4,436.2 200.5,438.3 202.5,441.0 203.6,445.2 205.3,419.8 207.3,431.4 208.7,438.3 210.1,433.5 211.9,441.7 213.5,412.2 215.6,445.8 217.3,419.8 219.3,448.6 220.4,438.0" fill="none" stroke="#14c814" stroke-width="1.08" stroke-linejoin="round"/>
<polyline points="220.4,438.0 221.5,443.8 223.1,444.5 224.5,447.9 225.8,447.6 227.5,450.0 229.3,417.0 231.1,452.0 232.5,444.5 233.4,447.9 234.8,442.4 235.8,441.0 236.6,419.1" fill="none" stroke="#ff1212" stroke-width="1.08" stroke-linejoin="round"/>
<polyline points="236.6,419.1 237.5,424.0" fill="none" stroke="#444" stroke-width="1.08" stroke-linejoin="round"/>
<polyline points="237.5,424.0 238.5,428.0 240.3,431.4 241.7,437.6 243.4,436.2 245.1,443.8 246.5,439.0 247.8,440.4 248.9,439.7 249.9,445.8 251.3,419.1 252.6,431.4 253.6,440.4 254.7,445.2 256.3,443.1" fill="none" stroke="#14c814" stroke-width="1.08" stroke-linejoin="round"/>
<polyline points="256.3,443.1 257.4,437.6 258.8,434.9 260.5,440.4 262.2,434.9 263.6,441.7 265.4,442.4 266.8,445.8 268.1,440.4 269.5,444.5 270.9,440.4 272.5,439.0 274.2,437.6 275.3,440.4 276.6,438.3 278.0,441.0 279.7,433.5 281.0,432.1 282.8,430.1 284.2,438.3 285.6,445.8 286.9,436.2 288.3,430.7 289.3,426.6 290.4,432.8 291.7,430.7 293.1,432.8 294.7,441.0 296.1,437.6 297.5,440.4 298.6,437.6" fill="none" stroke="#0808ff" stroke-width="1.08" stroke-linejoin="round"/>
<polyline points="298.6,437.6 300.0,434.9" fill="none" stroke="#444" stroke-width="1.08" stroke-linejoin="round"/>
<polyline points="300.0,434.9 301.6,429.4 303.0,436.9 304.4,436.2 305.8,443.8" fill="none" stroke="#14c814" stroke-width="1.08" stroke-linejoin="round"/>
<polyline points="305.8,443.8 306.6,444.5" fill="none" stroke="#444" stroke-width="1.08" stroke-linejoin="round"/>
<polyline points="306.6,444.5 307.5,445.2 309.6,430.7 311.2,442.4 313.0,445.8 314.8,445.2 316.2,440.4 317.6,444.5 318.9,446.5 320.3,434.9" fill="none" stroke="#ff1212" stroke-width="1.08" stroke-linejoin="round"/>
<polyline points="320.3,434.9 321.3,436.2" fill="none" stroke="#444" stroke-width="1.08" stroke-linejoin="round"/>
<polyline points="321.3,436.2 322.6,441.7 324.4,446.5 325.8,444.5 327.4,447.9 329.1,440.4 330.5,444.5 332.2,445.8 334.0,440.4 335.4,432.8 336.8,427.3 337.7,445.2 339.8,407.4 341.2,432.8 342.5,434.2 344.2,436.2 345.3,443.8 346.9,426.6 348.7,441.7 350.5,427.3 352.4,448.6 353.8,422.5 355.1,430.7 356.5,417.7 357.9,445.2 359.3,428.7 360.1,449.3 361.7,418.4 363.4,443.1 364.7,436.9 366.1,435.6 367.2,428.0 368.6,444.5 370.4,408.1 372.1,445.8 373.4,436.9 374.8,435.6 376.2,442.4 377.5,444.5 378.9,441.7 379.9,434.9 381.2,443.1 382.6,433.5 383.7,440.4 385.1,434.9 386.5,441.7 387.8,434.9 389.2,441.7 390.9,446.5 391.9,434.2 393.0,428.7 394.4,444.5 395.8,441.0 397.2,441.0 398.5,435.6 400.5,443.8 401.8,431.4 403.2,425.3 404.6,433.5 405.9,423.2 407.3,439.0 409.1,440.4 410.5,433.5 411.8,443.1 413.2,432.8 414.6,442.4 416.4,433.5 418.0,419.1 419.7,436.9 421.0,440.0" fill="none" stroke="#14c814" stroke-width="1.08" stroke-linejoin="round"/>
<polyline points="421.0,440.0 422.4,447.9" fill="none" stroke="#444" stroke-width="1.08" stroke-linejoin="round"/>
<polyline points="422.4,447.9 423.8,441.0 425.1,447.2 426.5,430.7 427.6,426.6 428.7,447.9 430.4,444.5 432.0,445.2 433.4,434.2 434.2,432.8 435.6,441.0 436.9,437.6 438.6,441.7 440.2,439.7 441.6,442.0" fill="none" stroke="#ff1212" stroke-width="1.08" stroke-linejoin="round"/>
<polyline points="441.6,442.0 443.2,442.9" fill="none" stroke="#444" stroke-width="1.08" stroke-linejoin="round"/>
<polyline points="443.2,442.9 445.2,440.4 447.3,438.8 449.4,439.9 451.0,440.4 452.6,443.7 454.2,438.8 455.9,437.2 457.0,438.0 458.1,414.5 459.4,428.3 460.2,440.4 461.0,434.8 462.3,438.8 464.0,439.6 465.1,442.0" fill="none" stroke="#14c814" stroke-width="1.08" stroke-linejoin="round"/>
<polyline points="465.1,442.0 466.7,438.8 468.3,438.0 470.0,436.4 471.1,438.8 472.4,429.9 473.7,439.6 475.3,428.3 476.9,439.6 478.9,438.8 480.5,436.4 482.4,443.7 484.0,439.6 485.7,437.2 487.8,440.4 490.2,423.4 492.1,433.1 494.2,431.5 495.4,434.8 497.0,429.9 498.6,429.1 499.6,436.4 500.2,445.3" fill="none" stroke="#0808ff" stroke-width="1.08" stroke-linejoin="round"/>
<polyline points="500.2,445.3 501.2,433.1" fill="none" stroke="#444" stroke-width="1.08" stroke-linejoin="round"/>
<polyline points="501.2,433.1 503.1,438.0 505.1,445.3 507.7,425.9 509.6,441.2 511.2,441.2 513.2,443.7 515.3,444.5 517.4,442.9 519.3,438.8 521.0,440.4 522.9,440.9" fill="none" stroke="#ff1212" stroke-width="1.08" stroke-linejoin="round"/>
<rect x="92.6" y="7.6" width="429.8" height="53.8" fill="none" stroke="#707070" stroke-width="1.2"/>
<rect x="92.3" y="93.3" width="430.2" height="54.0" fill="none" stroke="#707070" stroke-width="1.2"/>
<rect x="92.5" y="156.3" width="430.1" height="54.0" fill="none" stroke="#707070" stroke-width="1.2"/>
<rect x="92.8" y="218.9" width="430.4" height="53.9" fill="none" stroke="#707070" stroke-width="1.2"/>
<rect x="93.3" y="282.2" width="430.3" height="54.0" fill="none" stroke="#707070" stroke-width="1.2"/>
<rect x="93.5" y="344.8" width="430.4" height="53.7" fill="none" stroke="#707070" stroke-width="1.2"/>
<rect x="93.9" y="407.5" width="430.4" height="53.5" fill="none" stroke="#707070" stroke-width="1.2"/>
<g font-family="Liberation Serif" fill="#111" stroke="#111" stroke-width="0.12">
<text x="0.4" y="9.8" font-size="13.1" text-anchor="start" >(a)</text>
<text x="0.3" y="93.0" font-size="13.1" text-anchor="start" >(b)</text>
<text x="0.4" y="164.0" font-size="13.1" text-anchor="start" >(c)</text>
<text x="91.3" y="17.0" font-size="11.5" text-anchor="end" >REM Sleep</text>
<text x="91.3" y="38.0" font-size="11.5" text-anchor="end" >DeepSleep (3-4)</text>
<text x="91.3" y="58.7" font-size="11.5" text-anchor="end" >Light Sleep (1-2)</text>
<text x="23.5" y="123.1" font-size="14" text-anchor="start" >RR HF</text>
<text x="24.3" y="184.0" font-size="14" text-anchor="start" >EEG δ</text>
<text x="24.3" y="247.4" font-size="14" text-anchor="start" >EEG θ</text>
<text x="24.3" y="308.7" font-size="14" text-anchor="start" >EEG α</text>
<text x="24.3" y="373.4" font-size="14" text-anchor="start" >EEG σ</text>
<text x="24.3" y="436.1" font-size="14" text-anchor="start" >EEG β</text>
<text x="138.3" y="73.8" font-size="11.5" text-anchor="middle" >50</text>
<text x="139.7" y="476.1" font-size="11.5" text-anchor="middle" >50</text>
<text x="185.0" y="73.8" font-size="11.5" text-anchor="middle" >100</text>
<text x="186.4" y="476.1" font-size="11.5" text-anchor="middle" >100</text>
<text x="231.7" y="73.8" font-size="11.5" text-anchor="middle" >150</text>
<text x="233.2" y="476.1" font-size="11.5" text-anchor="middle" >150</text>
<text x="278.3" y="73.8" font-size="11.5" text-anchor="middle" >200</text>
<text x="279.9" y="476.1" font-size="11.5" text-anchor="middle" >200</text>
<text x="325.0" y="73.8" font-size="11.5" text-anchor="middle" >250</text>
<text x="326.6" y="476.1" font-size="11.5" text-anchor="middle" >250</text>
<text x="371.7" y="73.8" font-size="11.5" text-anchor="middle" >300</text>
<text x="373.4" y="476.1" font-size="11.5" text-anchor="middle" >300</text>
<text x="418.3" y="73.8" font-size="11.5" text-anchor="middle" >350</text>
<text x="420.1" y="476.1" font-size="11.5" text-anchor="middle" >350</text>
<text x="465.0" y="73.8" font-size="11.5" text-anchor="middle" >400</text>
<text x="466.8" y="476.1" font-size="11.5" text-anchor="middle" >400</text>
<text x="511.7" y="73.8" font-size="11.5" text-anchor="middle" >450</text>
<text x="513.6" y="476.1" font-size="11.5" text-anchor="middle" >450</text>
<text x="307.9" y="85.4" font-size="15.8" text-anchor="middle" font-style="italic" stroke="#1a1a1a" stroke-width="0.35">n</text>
<text x="309.1" y="488.4" font-size="15.8" text-anchor="middle" font-style="italic" stroke="#1a1a1a" stroke-width="0.35">n</text>
<text transform="translate(82.1,128.1) rotate(-90)" font-size="14" font-style="italic">X<tspan font-size="11" dy="5.7">n</tspan></text>
<text transform="translate(80.8,194.1) rotate(-90)" font-size="13.2" font-style="italic">Y</text>
<text transform="translate(88.3,187.3) rotate(-90)" font-size="12">1,</text>
<text transform="translate(88.3,178.1) rotate(-90)" font-size="11.5" font-style="italic">n</text>
<text transform="translate(80.8,256.0) rotate(-90)" font-size="13.2" font-style="italic">Y</text>
<text transform="translate(88.3,249.2) rotate(-90)" font-size="12">2,</text>
<text transform="translate(88.3,240.0) rotate(-90)" font-size="11.5" font-style="italic">n</text>
<text transform="translate(80.8,320.1) rotate(-90)" font-size="13.2" font-style="italic">Y</text>
<text transform="translate(88.3,313.3) rotate(-90)" font-size="12">3,</text>
<text transform="translate(88.3,304.1) rotate(-90)" font-size="11.5" font-style="italic">n</text>
<text transform="translate(80.8,382.1) rotate(-90)" font-size="13.2" font-style="italic">Y</text>
<text transform="translate(88.3,375.3) rotate(-90)" font-size="12">4,</text>
<text transform="translate(88.3,366.1) rotate(-90)" font-size="11.5" font-style="italic">n</text>
<text transform="translate(80.8,444.4) rotate(-90)" font-size="13.2" font-style="italic">Y</text>
<text transform="translate(88.3,437.6) rotate(-90)" font-size="12">5,</text>
<text transform="translate(88.3,428.4) rotate(-90)" font-size="11.5" font-style="italic">n</text>
</g>
</svg>
</body></html>
